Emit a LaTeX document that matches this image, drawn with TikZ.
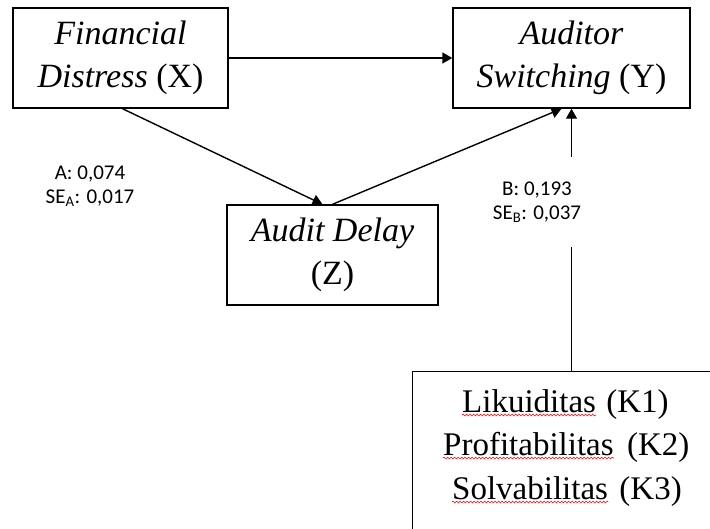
\documentclass[tikz,border=0pt]{standalone}
\usepackage{fontspec}
\setmainfont{Liberation Serif}
\newfontfamily\calibri{Carlito}
\usetikzlibrary{arrows.meta,decorations.pathmorphing}

\begin{document}
\begin{tikzpicture}[x=1pt,y=-1pt,
    box/.style={draw, line width=1.4pt, align=center, inner sep=0pt, font=\fontsize{34}{43}\selectfont},
    arr/.style={-{Triangle[length=10pt,width=11pt]}, line width=1.4pt},
    est/.style={align=center, fill=white, inner sep=0pt, minimum width=100, minimum height=90, font=\calibri\fontsize{21}{24}\selectfont},
    word/.style={anchor=base west, inner sep=0pt, font=\fontsize{33}{43}\selectfont},
    spell/.style={red, line width=0.6pt, decorate, decoration={snake, amplitude=0.9pt, segment length=3.5pt}}]
    \useasboundingbox (0,0) rectangle (710,528);
    \node[box, minimum width=215, minimum height=100] (X) at (120.5,58) {\textit{Financial}\\\textit{Distress} (X)};
    \node[box, minimum width=237, minimum height=100] (Y) at (571.5,58) {\textit{Auditor}\\\textit{Switching} (Y)};
    \node[box, minimum width=211, minimum height=100] (Z) at (332.5,255) {\textit{Audit Delay}\\(Z)};
    \node[box, anchor=north west, minimum width=308, minimum height=175] (K) at (412,371) {};
    % control variables
    \node[word] (k1) at (462,412) {Likuiditas};
    \node[word] (k1n) at ([xshift=10pt]k1.base east) {(K1)};
    \node[word] (k2) at (443,455) {Profitabilitas};
    \node[word] (k2n) at ([xshift=13pt]k2.base east) {(K2)};
    \node[word] (k3) at (452,499) {Solvabilitas};
    \node[word] (k3n) at ([xshift=11pt]k3.base east) {(K3)};
    \foreach \w in {k1,k2,k3}
        \draw[spell] ([yshift=-3pt]\w.base west) -- ([yshift=-3pt]\w.base east);
    \draw[arr] (X.east) -- (Y.west);
    \draw[arr] ([xshift=2pt]X.south) -- ([xshift=-10pt]Z.north);
    \draw[arr] (Z.north) -- ([xshift=-10pt]Y.south);
    \draw[arr] (K.north -| Y.south) -- (Y.south);
    \node[est] (a) at (90,186) {A: 0,074\\SE\textsubscript{A}: 0,017};
    \node[est] (b) at (537,202) {B: 0,193\\SE\textsubscript{B}: 0,037};
\end{tikzpicture}
\end{document}
